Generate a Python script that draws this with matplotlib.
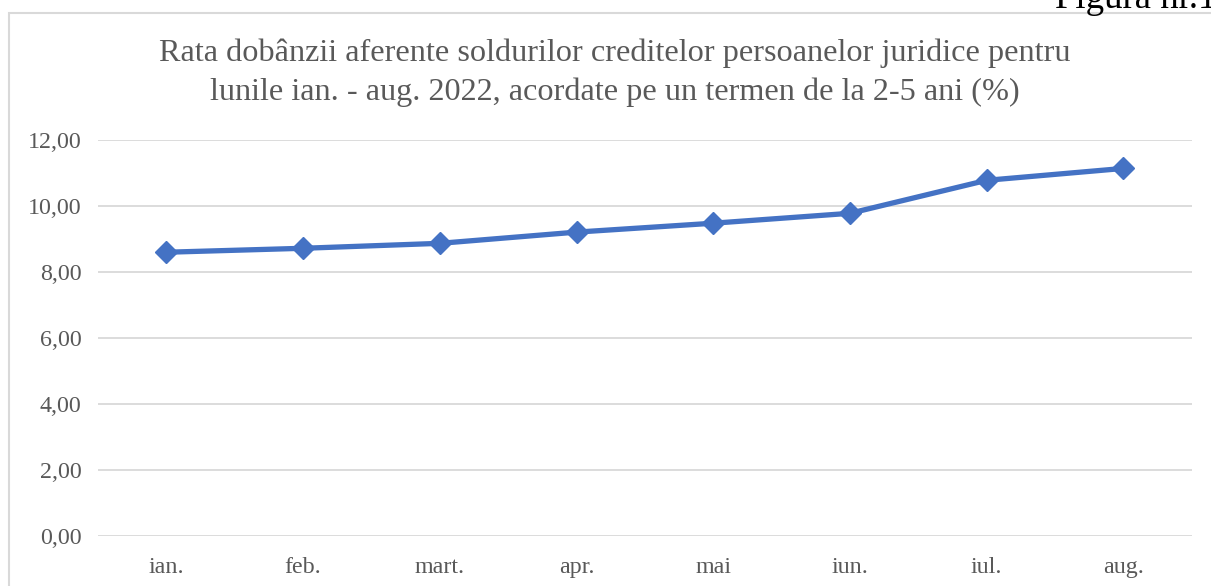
import matplotlib
matplotlib.use('Agg')
import matplotlib.pyplot as plt
from matplotlib.patches import Rectangle

# --- data ---
months = ['ian.', 'feb.', 'mart.', 'apr.', 'mai', 'iun.', 'iul.', 'aug.']
rates = [8.60, 8.72, 8.87, 9.21, 9.48, 9.78, 10.78, 11.14]
yticks = [0, 2, 4, 6, 8, 10, 12]

title = ('Rata dobânzii aferente soldurilor creditelor persoanelor juridice pentru\n'
         'lunile ian. - aug. 2022, acordate pe un termen de la 2-5 ani (%)')

plt.rcParams['font.family'] = ['Liberation Serif', 'DejaVu Serif']
grey = '#595959'

fig = plt.figure(figsize=(12.11, 5.86), dpi=100)
ax = fig.add_axes([0.081, 0.0853, 0.903, 0.6757])

x = range(len(months))
ax.plot(x, rates, color='#4472C4', lw=3.8, marker='D', markersize=11,
        solid_joinstyle='round', zorder=3)

ax.set_xlim(-0.5, len(months) - 0.5)
ax.set_ylim(0, 12)
ax.set_yticks(yticks)
ax.yaxis.set_major_formatter(matplotlib.ticker.FuncFormatter(
    lambda v, p: ('%.2f' % v).replace('.', ',')))
ax.set_xticks(list(x))
ax.set_xticklabels(months)
ax.tick_params(length=0, labelsize=17.3, colors=grey)
ax.tick_params(axis='y', pad=12)
ax.tick_params(axis='x', pad=15)
ax.grid(axis='y', color='#d9d9d9', lw=1.3)
ax.set_axisbelow(True)
for s in ax.spines.values():
    s.set_visible(False)

fig.text(0.508, 0.934, title, ha='center', va='top', fontsize=23.2,
         color=grey, linespacing=1.42)

# chart frame (extends beyond the image on the right and bottom)
fig.patches.append(Rectangle((9 / 1211, -0.1), 1.1, 1 - 12.5 / 586 + 0.1,
                             transform=fig.transFigure, fill=False,
                             ec='#d9d9d9', lw=1.5))
fig.text(1055 / 1211, 1 - 8 / 586, 'Figura nr.1', ha='left', va='baseline',
         fontsize=26.5, color='black')

fig.savefig('out.png', dpi=100)
